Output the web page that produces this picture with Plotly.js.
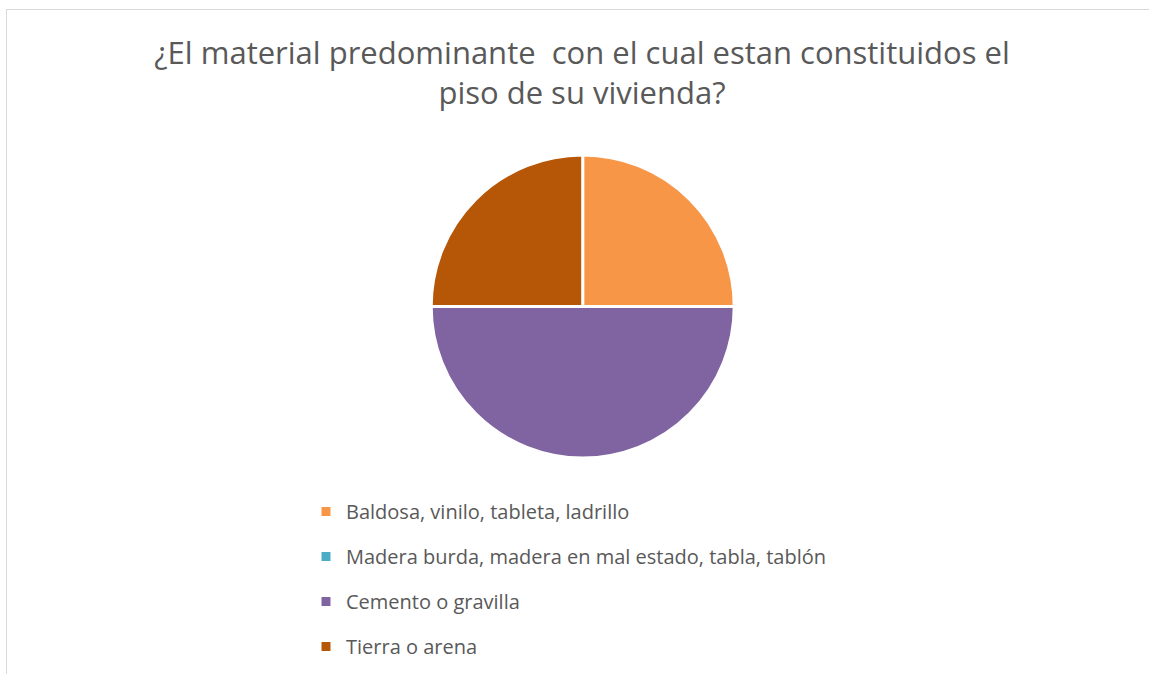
<!DOCTYPE html>
<html>
<head>
<meta charset="utf-8">
<script src="https://cdn.plot.ly/plotly-3.0.1.min.js"></script>
<style>
  html, body { margin: 0; padding: 0; background: #ffffff; overflow: hidden; }
  #frame { position: absolute; left: 6px; top: 9px; width: 1200px; height: 700px; border: 1px solid #d9d9d9; box-sizing: border-box; }
  #chart { position: absolute; left: 0; top: 0; width: 1149px; height: 674px; }
</style>
</head>
<body>
<div id="frame"></div>
<div id="chart"></div>
<script>
const titleLine1 = "¿El material predominante\u00a0 con el cual estan constituidos el";
const titleLine2 = "piso de su vivienda?";
const categories = [
  "Baldosa, vinilo, tableta, ladrillo",
  "Madera burda, madera en mal estado, tabla, tablón",
  "Cemento o gravilla",
  "Tierra o arena"
];
const values = [1, 0, 2, 1];
const colors = ["#F79646", "#4BACC6", "#8064A2", "#B65708"];

const W = 1149, H = 674;
const cx = 582.7, cy = 306.5, r = 151.5;
const FONT = "'Open Sans', Lato, sans-serif";

const traces = [{
  type: "pie",
  labels: categories,
  values: values,
  sort: false,
  direction: "clockwise",
  rotation: 0,
  textinfo: "none",
  hoverinfo: "label+percent",
  showlegend: false,
  marker: { colors: colors, line: { color: "#ffffff", width: 3 } },
  domain: { x: [(cx - r) / W, (cx + r) / W], y: [1 - (cy + r) / H, 1 - (cy - r) / H] }
}];

categories.forEach((c, i) => {
  traces.push({
    type: "scatter",
    mode: "markers",
    x: [null], y: [null],
    name: c,
    legendgroup: c,
    showlegend: true,
    hoverinfo: "skip",
    marker: { symbol: "square", size: 9, color: colors[i] }
  });
});

const layout = {
  width: W, height: H,
  margin: { l: 0, r: 0, t: 0, b: 0 },
  paper_bgcolor: "rgba(0,0,0,0)",
  plot_bgcolor: "rgba(0,0,0,0)",
  font: { family: FONT, color: "#595959" },
  title: {
    text: titleLine1 + "<br>" + titleLine2,
    font: { family: FONT, size: 31, color: "#595959" },
    x: 582 / W, xanchor: "center",
    y: 1 - 64 / H, yanchor: "top", yref: "container"
  },
  xaxis: { visible: false },
  yaxis: { visible: false },
  showlegend: true,
  legend: {
    x: 306 / W, xanchor: "left",
    y: 1 - 492 / H, yanchor: "top",
    orientation: "v",
    tracegroupgap: 16,
    font: { family: FONT, size: 20, color: "#595959" },
    bgcolor: "rgba(0,0,0,0)"
  }
};

Plotly.newPlot("chart", traces, layout, { displayModeBar: false, staticPlot: true });
</script>
</body>
</html>
